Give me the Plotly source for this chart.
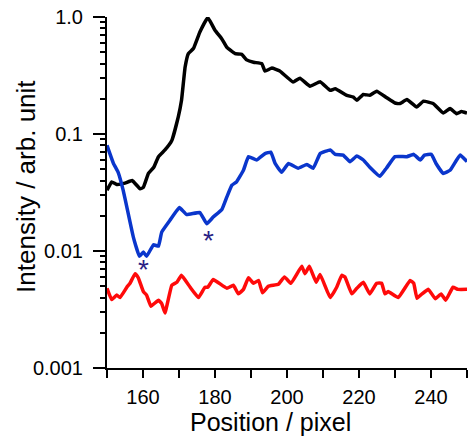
import plotly.graph_objects as go
import math

# ---- data ----
black_x = [150, 151.3, 152.7, 155, 157, 159.2, 160.1, 161.5, 163, 164.3, 166.1, 168, 169.8, 170.7,
           171.7, 172.6, 174, 175.8, 178, 180, 181.9, 183.3, 185.6, 187.4, 188.8, 190.7, 193, 193.9,
           195.8, 198, 201.7, 203.6, 206.4, 209.2, 212, 213.4, 216.6, 218.4, 219.4, 221.2, 223, 224.9,
           227.6, 230, 231.4, 233.3, 236, 237.9, 240.6, 243.4, 245.3, 247.1, 248.5, 250]
black_y = [0.033, 0.039, 0.037, 0.038, 0.040, 0.034, 0.035, 0.046, 0.052, 0.064, 0.073, 0.088, 0.14, 0.194,
           0.374, 0.487, 0.537, 0.745, 0.99, 0.77, 0.65, 0.55, 0.487, 0.48, 0.43, 0.41, 0.40, 0.345,
           0.366, 0.345, 0.278, 0.30, 0.256, 0.28, 0.236, 0.244, 0.214, 0.207, 0.194, 0.218, 0.214, 0.232,
           0.205, 0.184, 0.182, 0.197, 0.170, 0.191, 0.182, 0.151, 0.165, 0.149, 0.156, 0.151]

blue_x = [150, 151.8, 153.1, 154.5, 155.5, 157.3, 159, 160.1, 161, 162.9, 164.3, 165.2, 167.5, 170.1,
          172.1, 175.8, 177.7, 179.5, 181.9, 183.3, 184.7, 186, 187.9, 189.3, 191.6, 193.9, 195.5, 196.7,
          198.5, 200.4, 203.1, 205.5, 207.3, 209.2, 212, 213.4, 215.6, 217.5, 219.4, 221.2, 223, 225.8,
          227.6, 230, 233.3, 235.2, 237, 238.2, 240.1, 241.4, 243.4, 245.3, 248.1, 250]
blue_y = [0.080, 0.056, 0.047, 0.033, 0.0238, 0.0132, 0.0090, 0.0098, 0.0090, 0.0113, 0.011, 0.0145, 0.0183, 0.0235,
          0.0205, 0.0213, 0.0171, 0.0195, 0.0226, 0.029, 0.0365, 0.039, 0.049, 0.064, 0.060, 0.068, 0.070, 0.056,
          0.047, 0.056, 0.051, 0.055, 0.051, 0.068, 0.073, 0.067, 0.066, 0.058, 0.065, 0.060, 0.052, 0.0435,
          0.051, 0.064, 0.064, 0.067, 0.060, 0.066, 0.067, 0.056, 0.046, 0.049, 0.066, 0.058]

red_x = [150, 151.3, 152.7, 153.6, 155.5, 156.4, 157.8, 158.7, 160.1, 161, 162.2, 164.3, 165.2, 166.1,
         168, 169.4, 170.7, 173.1, 175.4, 177.2, 178, 179.5, 183.3, 185.1, 186.5, 187.9, 189.3, 190.7,
         192.1, 193.2, 194.8, 197.6, 199.3, 201.1, 204.1, 205, 206.2, 208.1, 209.2, 212, 213.8, 215.2,
         216.1, 218, 219.4, 221.2, 223, 224.9, 226.3, 227.2, 228.1, 230.9, 234.2, 235.2, 236.1, 237.5,
         239.3, 241.2, 242.8, 244.1, 246.1, 247.5, 250]
red_y = [0.0048, 0.00385, 0.0042, 0.0040, 0.0049, 0.0053, 0.0064, 0.0059, 0.0045, 0.0042, 0.00337, 0.0038, 0.00355, 0.00295,
         0.0051, 0.0054, 0.0062, 0.0049, 0.0040, 0.0049, 0.0049, 0.0057, 0.0048, 0.0051, 0.0043, 0.0047, 0.0059, 0.0053,
         0.0056, 0.0044, 0.0050, 0.0052, 0.0060, 0.0053, 0.0074, 0.0064, 0.0074, 0.0054, 0.0063, 0.0040, 0.0049, 0.0062,
         0.0060, 0.0043, 0.0048, 0.0054, 0.0043, 0.0053, 0.0053, 0.0043, 0.0045, 0.0040, 0.0056, 0.0053, 0.00394, 0.0043,
         0.0047, 0.0039, 0.0043, 0.0038, 0.0049, 0.0047, 0.0047]

star_x = [160.1, 178.3]
star_y = [0.00755, 0.0134]

x_tickvals = [150, 160, 170, 180, 190, 200, 210, 220, 230, 240, 250]
x_ticktext = ["", "160", "", "180", "", "200", "", "220", "", "240", ""]
y_tickvals = [0.001, 0.01, 0.1, 1.0]
y_ticktext = ["0.001", "0.01", "0.1", "1.0"]
y_minor = [m * 10.0 ** e for e in (-3, -2, -1) for m in range(2, 10)]

x_title = "Position / pixel"
y_title = "Intensity / arb. unit"

FONT = "Liberation Sans, Arial, sans-serif"
STAR = "#2a1f85"

fig = go.Figure()
fig.add_trace(go.Scatter(x=black_x, y=black_y, mode="lines",
                         line=dict(color="#000000", width=3.5, shape="spline", smoothing=0.3)))
fig.add_trace(go.Scatter(x=blue_x, y=blue_y, mode="lines",
                         line=dict(color="#0a36cc", width=3.5, shape="spline", smoothing=0.3)))
fig.add_trace(go.Scatter(x=red_x, y=red_y, mode="lines",
                         line=dict(color="#ff0a0a", width=3.5, shape="spline", smoothing=0.3)))

for sx, sy in zip(star_x, star_y):
    fig.add_annotation(x=sx, y=math.log10(sy), text="*", showarrow=False,
                       xanchor="center", yanchor="middle", yshift=-4,
                       font=dict(family=FONT, size=28, color=STAR))

# axis titles (placed as in the reference)
fig.add_annotation(text=x_title, xref="paper", yref="paper", x=0.453, y=-0.154,
                   xanchor="center", yanchor="middle", showarrow=False,
                   font=dict(family=FONT, size=25, color="black"))
fig.add_annotation(text=y_title, xref="paper", yref="paper", x=-0.225, y=0.516,
                   xanchor="center", yanchor="middle", showarrow=False, textangle=-90,
                   font=dict(family=FONT, size=26, color="black"))

fig.update_layout(
    width=471, height=436,
    margin=dict(l=107, r=4, t=17, b=68),
    paper_bgcolor="white", plot_bgcolor="white",
    showlegend=False,
    font=dict(family=FONT, color="black"),
    xaxis=dict(
        range=[150, 250], tickmode="array", tickvals=x_tickvals, ticktext=x_ticktext,
        ticks="outside", ticklen=8, tickwidth=2, tickcolor="black",
        showline=True, linewidth=2, linecolor="black", showgrid=False, zeroline=False,
        tickfont=dict(size=20, family=FONT), ticklabelstandoff=2,
    ),
    yaxis=dict(
        type="log", range=[-3, 0], tickmode="array", tickvals=y_tickvals, ticktext=y_ticktext,
        ticks="outside", ticklen=12, tickwidth=2, tickcolor="black",
        showline=True, linewidth=2, linecolor="black", showgrid=False, zeroline=False,
        tickfont=dict(size=20, family=FONT), ticklabelstandoff=6,
        minor=dict(tickvals=y_minor, ticks="outside", ticklen=5, tickwidth=2, tickcolor="black",
                   showgrid=False),
    ),
)

fig.write_html("out.html")
